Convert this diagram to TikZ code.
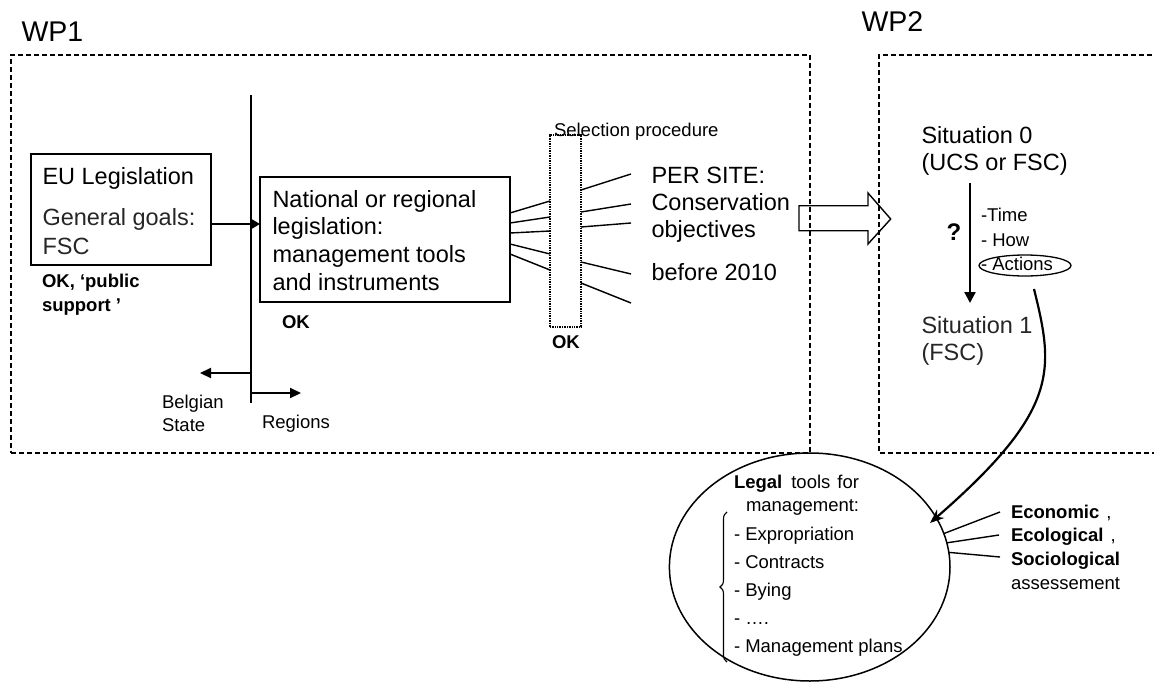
\documentclass[tikz,border=0pt]{standalone}
\usepackage{fontspec}
\setmainfont{Liberation Sans}
\usetikzlibrary{arrows.meta,shapes.geometric,decorations.pathreplacing}
\newcommand{\mlines}[1]{\begin{tabular}[t]{@{}l@{}}#1\end{tabular}}
\begin{document}
\begin{tikzpicture}[x=1pt,y=-1pt,
  every node/.style={inner sep=0pt, outer sep=0pt},
  txt/.style={anchor=base west, inner sep=0pt},
  big/.style={font=\fontsize{23.5}{27.7}\selectfont},
  sml/.style={font=\fontsize{18.5}{23.7}\selectfont},
  smb/.style={font=\fontsize{18.5}{23.5}\selectfont\bfseries},
  boxline/.style={draw, line width=1.6pt},
  wpframe/.style={draw, line width=1.7pt, dash pattern=on 5pt off 3pt},
  fanline/.style={line width=1.4pt},
]
\useasboundingbox (0,0) rectangle (1154,682);

% work package frames
\node[txt, font=\fontsize{28.5}{34}\selectfont] (wp1) at (21.5,41.7) {WP1};
\node[txt, font=\fontsize{28.5}{34}\selectfont] (wp2) at (861.5,31.7) {WP2};
\node[wpframe, minimum width=799, minimum height=398] (f1) at (410.5,254) {};
\draw[wpframe] (1160,55) -- (879,55) -- (879,453) -- (1160,453);

% EU box
\node[boxline, minimum width=180, minimum height=111] (eu) at (121,209.5) {};
\node[txt, big] (eut) at (42.5,184) {EU Legislation};
\node[txt, font=\fontsize{23.5}{29}\selectfont, text=black!85] (eug) at (42.5,225) {\mlines{General goals:\\FSC}};
\node[txt, smb] (okpub) at (42,287.7) {\mlines{OK, ‘public\\support ’}};

% divider
\coordinate (divT) at (251,95);
\coordinate (divB) at (251,403);
\draw[line width=1.5pt] (divT) -- (divB);
\coordinate (bsE) at (200,373);
\coordinate (rgE) at (301,393);
\draw[line width=2.2pt, -{Triangle[length=11pt,width=10pt]}] (divT |- bsE) -- (bsE);
\draw[line width=2.2pt, -{Triangle[length=11pt,width=10pt]}] (divT |- rgE) -- (rgE);
\node[txt, sml] (bs) at (162,408) {\mlines{Belgian\\State}};
\node[txt, sml] (rg) at (262,428) {Regions};

% national box
\node[boxline, minimum width=250, minimum height=125] (national) at (385,239.5) {};
\draw[line width=2.2pt, -{Triangle[length=9pt,width=10pt]}] ([yshift=-14.5pt]eu.east) -- ([yshift=-14.5pt]eu.east -| national.west);
\node[txt, big] (natt) at (272.5,207) {\mlines{National or regional\\legislation:\\management tools\\and instruments}};
\node[txt, smb] (ok2) at (282,328) {OK};

% selection procedure
\node[draw, line width=1.7pt, dash pattern=on 1pt off 0.7pt, minimum width=31, minimum height=192] (sel) at (565.5,231) {};
\node[txt, sml] (selt) at (554,136.7) {Selection procedure};
\node[txt, smb] (ok3) at (552,348) {OK};
\foreach \a/\b in {213/201,223/217,233/231,244/254,254/270}
  \draw[fanline] (national.east |- 0,\a) -- (sel.west |- 0,\b);
\foreach \a/\b in {190/174,212/204,227/223,262/274,283/303}
  \draw[fanline] (sel.east |- 0,\a) -- (631,\b);

% per site
\node[txt, font=\fontsize{23.5}{27}\selectfont] (site) at (651.5,183) {\mlines{PER SITE:\\Conservation\\objectives}};
\node[txt, big] (before) at (651.5,280) {before 2010};

% hollow arrow
\draw[line width=1.4pt, line join=miter] (799,205.7) -- (868,205.7) -- (868,193) -- (890.7,219) -- (868,244) -- (868,230.7) -- (799,230.7) -- cycle;

% WP2 content
\node[txt, font=\fontsize{23.5}{27}\selectfont] (s0) at (921.5,143.5) {\mlines{Situation 0\\(UCS or FSC)}};
\node[txt, font=\fontsize{23.5}{27}\selectfont, text=black!85] (s1) at (921.5,333) {\mlines{Situation 1\\(FSC)}};
\coordinate (vA) at (970,183);
\coordinate (vB) at (970,303);
\draw[line width=2.4pt, -{Triangle[length=11pt,width=11pt]}] (vA) -- (vB);
\node[txt, font=\fontsize{24}{28}\selectfont\bfseries] (q) at (946.5,240) {?};
\node[txt, font=\fontsize{18.5}{24.5}\selectfont] (tha) at (981,221.7) {\mlines{-Time\\- How\\- Actions}};
\node[draw, ellipse, line width=1.3pt, minimum width=92, minimum height=21] (act) at (1025,265.5) {};

% legal tools ellipse
\node[draw, ellipse, line width=1.5pt, minimum width=280.6, minimum height=228] (legal) at (809.7,567) {};
\node[txt, sml] (lt) at (734,488) {\mlines{\textbf{Legal}\hspace{9pt}tools\hspace{7pt}for\\\hspace{12pt}management:}};
\node[txt, font=\fontsize{18.5}{28}\selectfont] (list) at (734,540) {\mlines{- Expropriation\\- Contracts\\- Bying\\- ….\\- Management plans}};
\draw[line width=1.1pt, decorate, decoration={brace, amplitude=7pt}] (727,662) -- (727,512);

% curve from actions to legal tools
\coordinate (cS) at (1034,289);
\coordinate (cE) at (930,523);
\draw[line width=2.2pt, -{Stealth[length=14pt,width=11pt]}] (cS) .. controls (1054,370) and (1060,410) .. (cE);

% assessment
\coordinate (e1) at (1000,512);
\coordinate (e2) at (999,535);
\coordinate (e3) at (1000,557);
\draw[fanline] (legal.14) -- (e1);
\draw[fanline] (legal.10) -- (e2);
\draw[fanline] (legal.6) -- (e3);
\node[txt, font=\fontsize{18.5}{23.8}\selectfont] (assess) at (1011,518) {\mlines{\textbf{Economic}\hspace{7pt},\\\textbf{Ecological}\hspace{7pt},\\\textbf{Sociological}\\assessement}};
\end{tikzpicture}
\end{document}
